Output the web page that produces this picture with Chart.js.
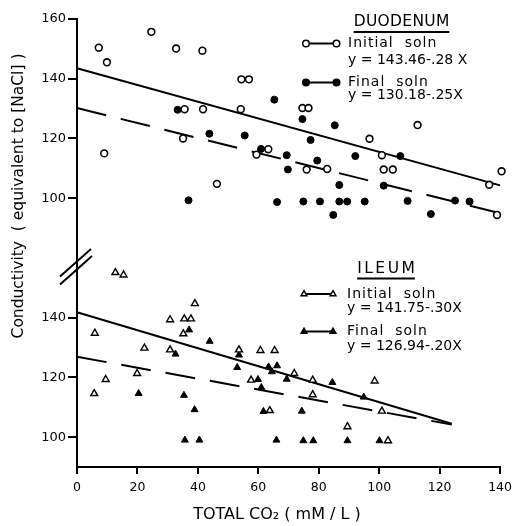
<!DOCTYPE html>
<html><head><meta charset="utf-8">
<script src="https://cdn.jsdelivr.net/npm/chart.js@4.4.1/dist/chart.umd.min.js"></script>
<style>html,body{margin:0;padding:0;background:#fff;}canvas{display:block;}</style>
</head><body>
<canvas id="c" width="518" height="526"></canvas>
<script>
// ---- tick labels ----
const xTicks = [0, 20, 40, 60, 80, 100, 120, 140];
const yTopTicks = [100, 120, 140, 160];
const yBotTicks = [100, 120, 140];

// ---- DUODENUM: initial solution (open circles) ----
const duoInitX = [7.2, 9.9, 24.6, 32.8, 41.5, 9.0, 35.6, 41.7, 35.1, 54.4, 56.9, 54.2, 46.3, 59.4, 63.3, 74.6, 76.6, 112.7, 96.8, 100.9, 76.0, 82.8, 101.5, 104.5, 140.5, 136.4, 139.0];
const duoInitY = [150.4, 145.5, 155.7, 150.1, 149.4, 115.0, 129.8, 129.8, 120.0, 139.8, 139.8, 129.8, 104.8, 114.6, 116.4, 130.2, 130.2, 124.5, 119.9, 114.4, 109.6, 109.8, 109.6, 109.6, 109.0, 104.5, 94.4];
// ---- DUODENUM: final solution (filled circles) ----
const duoFinX = [33.3, 43.8, 55.5, 60.9, 65.3, 69.4, 69.8, 36.9, 66.2, 74.6, 85.3, 77.3, 79.5, 92.1, 107.0, 86.8, 101.5, 74.9, 80.4, 86.8, 89.4, 95.2, 109.4, 125.1, 129.9, 84.8, 117.1];
const duoFinY = [129.6, 121.6, 121.0, 116.5, 133.0, 114.4, 109.6, 99.3, 98.7, 126.5, 124.4, 119.5, 112.6, 114.1, 114.1, 104.4, 104.2, 98.9, 98.9, 98.9, 98.9, 98.9, 99.1, 99.2, 98.9, 94.4, 94.7];

// ---- ILEUM: initial solution (open triangles) ----
const ileInitX = [12.7, 15.4, 5.9, 39.0, 30.8, 35.5, 37.7, 35.2, 22.3, 30.8, 19.9, 9.5, 5.7, 53.6, 60.7, 65.4, 57.6, 63.8, 71.9, 78.0, 98.5, 78.0, 100.9, 89.5, 102.9];
const ileInitY = [155.1, 154.3, 134.8, 144.7, 139.3, 139.6, 139.6, 134.6, 129.8, 129.2, 121.3, 119.3, 114.6, 129.2, 129.0, 129.0, 119.1, 108.9, 121.3, 119.1, 118.8, 114.2, 108.7, 103.5, 98.8];
// ---- ILEUM: final solution (filled triangles) ----
const ileFinX = [37.1, 43.9, 32.6, 53.6, 53.0, 63.4, 66.2, 64.5, 59.9, 61.0, 20.4, 35.4, 38.9, 61.7, 35.7, 40.5, 66.0, 69.4, 84.5, 94.9, 74.4, 74.9, 78.2, 89.5, 100.1];
const ileFinY = [135.9, 132.1, 127.8, 127.5, 123.3, 123.5, 123.9, 121.9, 119.3, 116.6, 114.6, 114.0, 109.2, 108.6, 99.0, 99.0, 99.0, 119.4, 118.3, 113.4, 108.7, 98.8, 98.8, 98.8, 98.8];

// ---- regression lines (end points) ----
const duoInitLineX = [0, 140], duoInitLineY = [143.5, 104.3];
const duoFinLineX = [0, 140], duoFinLineY = [130.2, 95.0];
const ileInitLineX = [0, 124], ileInitLineY = [141.8, 104.5];
const ileFinLineX = [0, 124], ileFinLineY = [126.9, 104.2];

// ---- texts ----
const panelTitles = ['DUODENUM', 'ILEUM'];
const seriesNames = ['Initial  soln', 'Final  soln'];
const duoEquations = ['y = 143.46-.28 X', 'y = 130.18-.25X'];
const ileEquations = ['y = 141.75-.30X', 'y = 126.94-.20X'];
const xTitle = 'TOTAL CO\u2082 ( mM / L )';
const yTitle = 'Conductivity  ( equivalent to [NaCl] )';

const pts = (xs, ys) => xs.map((x, i) => ({x: x, y: ys[i]}));
const FONT = '"DejaVu Sans", sans-serif';

function pointSet(xs, ys, axis, style, filled, r, bw) {
  return {
    type: 'scatter', data: pts(xs, ys), yAxisID: axis, order: 0, clip: false,
    pointStyle: style, pointRadius: r, pointHoverRadius: r,
    pointBackgroundColor: filled ? '#000' : '#fff', pointBorderColor: '#000',
    pointBorderWidth: bw, showLine: false
  };
}
function lineSet(xs, ys, axis, dashed) {
  return {
    type: 'scatter', data: pts(xs, ys), yAxisID: axis, order: 1, clip: false,
    showLine: true, borderColor: '#000', borderWidth: 2,
    borderDash: dashed ? [30, 15] : [], pointRadius: 0, pointHoverRadius: 0
  };
}

function drawMarker(ctx, style, filled, x, y, r) {
  ctx.beginPath();
  if (style === 'circle') {
    ctx.arc(x, y, r, 0, Math.PI * 2);
  } else {
    ctx.moveTo(x, y - r);
    ctx.lineTo(x + r * 0.866, y + r * 0.5);
    ctx.lineTo(x - r * 0.866, y + r * 0.5);
    ctx.closePath();
  }
  ctx.fillStyle = filled ? '#000' : '#fff';
  ctx.fill();
  ctx.lineWidth = 1.5; ctx.strokeStyle = '#000';
  ctx.stroke();
}

function drawLegendBlock(ctx, title, titleX, titleY, titleSpacing, style, eqs, x0, x1, textX, rows) {
  ctx.fillStyle = '#000'; ctx.strokeStyle = '#000';
  ctx.font = '15.5px ' + FONT;
  ctx.textAlign = 'left'; ctx.textBaseline = 'middle';
  ctx.letterSpacing = titleSpacing + 'px';
  const w = ctx.measureText(title).width - titleSpacing;
  ctx.fillText(title, titleX - w / 2, titleY);
  ctx.lineWidth = 2;
  ctx.beginPath(); ctx.moveTo(titleX - w / 2, titleY + 10); ctx.lineTo(titleX + w / 2, titleY + 10); ctx.stroke();
  for (let i = 0; i < 2; i++) {
    const row = rows[i];
    ctx.lineWidth = 2; ctx.strokeStyle = '#000';
    ctx.beginPath(); ctx.moveTo(x0, row[0]); ctx.lineTo(x1, row[0]); ctx.stroke();
    drawMarker(ctx, style, i === 1, x0, row[0], 3.3);
    drawMarker(ctx, style, i === 1, x1, row[0], 3.3);
    ctx.fillStyle = '#000';
    ctx.font = '14px ' + FONT;
    ctx.letterSpacing = '1px';
    ctx.fillText(seriesNames[i], textX, row[0]);
    ctx.letterSpacing = '0px';
    ctx.fillText(eqs[i], textX, row[1]);
  }
  ctx.letterSpacing = '0px';
}

const annotations = {
  id: 'annotations',
  afterDraw(chart) {
    const ctx = chart.ctx;
    ctx.save();
    // y axis title
    ctx.save();
    ctx.translate(19, 196); ctx.rotate(-Math.PI / 2);
    ctx.fillStyle = '#000';
    ctx.font = '15.5px ' + FONT; ctx.textAlign = 'center'; ctx.textBaseline = 'middle';
    ctx.fillText(yTitle, 0, 0);
    ctx.restore();
    // x axis title
    ctx.fillStyle = '#000';
    ctx.font = '16px ' + FONT; ctx.textAlign = 'center'; ctx.textBaseline = 'middle';
    ctx.fillText(xTitle, 277, 515);
    // axis break marks
    ctx.strokeStyle = '#000'; ctx.lineWidth = 2;
    ctx.beginPath();
    ctx.moveTo(60, 276.5); ctx.lineTo(91, 249);
    ctx.moveTo(60, 284.5); ctx.lineTo(92, 256);
    ctx.stroke();
    // legends
    drawLegendBlock(ctx, panelTitles[0], 401.5, 22, 0.3, 'circle', duoEquations, 306, 336.5, 348, [[43.5, 60], [82.5, 95]]);
    drawLegendBlock(ctx, panelTitles[1], 386, 268.5, 2.5, 'triangle', ileEquations, 304, 333, 347, [[294, 308], [331.5, 346]]);
    ctx.restore();
  }
};

const axisCommon = {
  border: {color: '#000', width: 2},
  grid: {drawOnChartArea: false, color: '#000', tickLength: 9, lineWidth: 2},
  ticks: {color: '#000', font: {family: 'DejaVu Sans', size: 13}, padding: 2}
};

new Chart(document.getElementById('c'), {
  type: 'scatter',
  data: {
    datasets: [
      pointSet(duoInitX, duoInitY, 'yTop', 'circle', false, 3.4, 1.6),
      pointSet(duoFinX, duoFinY, 'yTop', 'circle', true, 3.5, 1),
      pointSet(ileInitX, ileInitY, 'yBot', 'triangle', false, 4, 1.4),
      pointSet(ileFinX, ileFinY, 'yBot', 'triangle', true, 4, 1),
      lineSet(duoInitLineX, duoInitLineY, 'yTop', false),
      lineSet(duoFinLineX, duoFinLineY, 'yTop', true),
      lineSet(ileInitLineX, ileInitLineY, 'yBot', false),
      lineSet(ileFinLineX, ileFinLineY, 'yBot', true)
    ]
  },
  options: {
    responsive: false, animation: false, devicePixelRatio: 1,
    layout: {padding: {left: 0, right: 15, top: 19, bottom: 0}},
    plugins: {legend: {display: false}, tooltip: {enabled: false}, title: {display: false}},
    scales: {
      x: {
        type: 'linear', min: 0, max: 140,
        border: {color: '#000', width: 2},
        grid: {drawOnChartArea: false, color: '#000', tickLength: 7, lineWidth: 2},
        ticks: {color: '#000', font: {family: 'DejaVu Sans', size: 12.5}, padding: 6, maxRotation: 0},
        afterBuildTicks: s => { s.ticks = xTicks.map(v => ({value: v})); },
        afterFit: s => { s.height = 59; }
      },
      yBot: Object.assign({}, axisCommon, {
        type: 'linear', position: 'left', stack: 'ystack', stackWeight: 70, min: 90, max: 160,
        afterBuildTicks: s => { s.ticks = yBotTicks.map(v => ({value: v})); },
        afterFit: s => { s.width = 77; }
      }),
      yTop: Object.assign({}, axisCommon, {
        type: 'linear', position: 'left', stack: 'ystack', stackWeight: 80, min: 80, max: 160,
        afterBuildTicks: s => { s.ticks = yTopTicks.map(v => ({value: v})); },
        afterFit: s => { s.width = 77; }
      })
    }
  },
  plugins: [annotations]
});
</script>
</body></html>
